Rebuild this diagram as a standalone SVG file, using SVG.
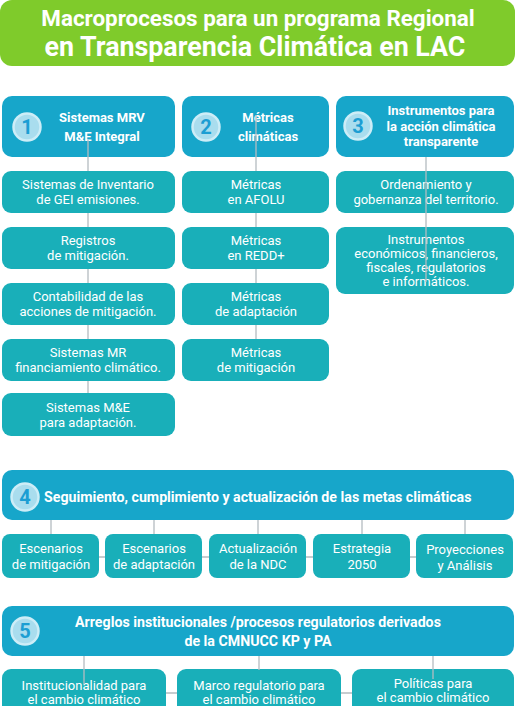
<svg xmlns="http://www.w3.org/2000/svg" width="516" height="706" viewBox="0 0 516 706">
<style>
.hd{fill:#17A6CA}
.it{fill:#19AFB9}
.t{font-family:Roboto,"Liberation Sans",sans-serif;fill:#fff;text-anchor:middle}
.b{font-weight:bold;font-size:13px}
.bb{font-weight:bold;font-size:14.2px}
.r{font-size:13px}
.ln{stroke:#B4BCC0;stroke-width:1.3;fill:none}
.bdg{fill:#A9DDEE;stroke:#CDEDF7;stroke-width:2.5}
.num{font-family:Roboto,"Liberation Sans",sans-serif;font-weight:bold;font-size:20px;fill:#1C9ED3;text-anchor:middle}
</style>
<rect width="516" height="706" fill="#fff"/>
<g id="title">
<rect x="0" y="0" width="515" height="66" rx="12" fill="#7FCB2B"/>
<text class="t" x="258" y="26" font-weight="bold" font-size="22.4">Macroprocesos para un programa Regional</text>
<text class="t" x="255" y="56" font-weight="bold" font-size="26.8">en Transparencia Climática en LAC</text>
</g>
<g id="h1"><rect class="hd" x="2" y="96" width="173" height="61" rx="10"/><circle class="bdg" cx="27" cy="127" r="13.5"/><text class="num" x="27" y="134">1</text><text class="t b" x="102" y="122">Sistemas MRV</text><text class="t b" x="102" y="141">M&amp;E Integral</text></g>
<g id="h2"><rect class="hd" x="182" y="96" width="147" height="61" rx="10"/><circle class="bdg" cx="206" cy="127" r="13.5"/><text class="num" x="206" y="134">2</text><text class="t b" x="268" y="122">Métricas</text><text class="t b" x="268" y="141">climáticas</text></g>
<g id="h3"><rect class="hd" x="336" y="96" width="178" height="61" rx="10"/><circle class="bdg" cx="358" cy="126" r="13.5"/><text class="num" x="358" y="133">3</text><text class="t b" x="441" y="115">Instrumentos para</text><text class="t b" x="441" y="131">la acción climática</text><text class="t b" x="441" y="146">transparente</text></g>
<g id="c1a"><rect class="it" x="2" y="171" width="173" height="42" rx="9"/><text class="t r" x="88" y="189">Sistemas de Inventario</text><text class="t r" x="88" y="204">de GEI emisiones.</text></g>
<g id="c1b"><rect class="it" x="2" y="227" width="173" height="42" rx="9"/><text class="t r" x="88" y="245">Registros</text><text class="t r" x="88" y="260">de mitigación.</text></g>
<g id="c1c"><rect class="it" x="2" y="283" width="173" height="42" rx="9"/><text class="t r" x="88" y="301">Contabilidad de las</text><text class="t r" x="88" y="316">acciones de mitigación.</text></g>
<g id="c1d"><rect class="it" x="2" y="339" width="173" height="42" rx="9"/><text class="t r" x="88" y="357">Sistemas MR</text><text class="t r" x="88" y="372">financiamiento climático.</text></g>
<g id="c1e"><rect class="it" x="2" y="393" width="173" height="43" rx="9"/><text class="t r" x="88" y="412">Sistemas M&amp;E</text><text class="t r" x="88" y="427">para adaptación.</text></g>
<g id="c2a"><rect class="it" x="182" y="171" width="147" height="42" rx="9"/><text class="t r" x="256" y="189">Métricas</text><text class="t r" x="256" y="204">en AFOLU</text></g>
<g id="c2b"><rect class="it" x="182" y="227" width="147" height="42" rx="9"/><text class="t r" x="256" y="245">Métricas</text><text class="t r" x="256" y="260">en REDD+</text></g>
<g id="c2c"><rect class="it" x="182" y="283" width="147" height="42" rx="9"/><text class="t r" x="256" y="301">Métricas</text><text class="t r" x="256" y="316">de adaptación</text></g>
<g id="c2d"><rect class="it" x="182" y="339" width="147" height="42" rx="9"/><text class="t r" x="256" y="357">Métricas</text><text class="t r" x="256" y="372">de mitigación</text></g>
<g id="c3a"><rect class="it" x="336" y="171" width="178" height="42" rx="9"/><text class="t r" x="426" y="189">Ordenamiento y</text><text class="t r" x="426" y="204">gobernanza del territorio.</text></g>
<g id="c3b"><rect class="it" x="336" y="227" width="178" height="67" rx="9"/><text class="t r" x="426" y="244">Instrumentos</text><text class="t r" x="426" y="258">económicos, financieros,</text><text class="t r" x="426" y="272">fiscales, regulatorios</text><text class="t r" x="426" y="286">e informáticos.</text></g>
<g id="h4"><rect class="hd" x="2" y="470" width="512" height="50" rx="10"/><circle class="bdg" cx="25" cy="497" r="13.5"/><text class="num" x="25" y="504">4</text><text class="t bb" x="44" y="502" style="text-anchor:start">Seguimiento, cumplimiento y actualización de las metas climáticas</text></g>
<g id="s4a"><rect class="it" x="2" y="534" width="97" height="44" rx="8"/><text class="t r" x="51" y="553">Escenarios</text><text class="t r" x="51" y="569">de mitigación</text></g>
<g id="s4b"><rect class="it" x="105" y="534" width="97" height="44" rx="8"/><text class="t r" x="154" y="553">Escenarios</text><text class="t r" x="154" y="569">de adaptación</text></g>
<g id="s4c"><rect class="it" x="209" y="534" width="97" height="44" rx="8"/><text class="t r" x="258" y="553">Actualización</text><text class="t r" x="258" y="569">de la NDC</text></g>
<g id="s4d"><rect class="it" x="313" y="534" width="97" height="44" rx="8"/><text class="t r" x="362" y="553">Estrategia</text><text class="t r" x="362" y="569">2050</text></g>
<g id="s4e"><rect class="it" x="416" y="534" width="97" height="44" rx="8"/><text class="t r" x="465" y="554">Proyecciones</text><text class="t r" x="465" y="570">y Análisis</text></g>
<g id="h5"><rect class="hd" x="2" y="606" width="512" height="50" rx="10"/><circle class="bdg" cx="25" cy="631" r="13.5"/><text class="num" x="25" y="638">5</text><text class="t bb" x="258" y="627">Arreglos institucionales /procesos regulatorios derivados</text><text class="t bb" x="258" y="646">de la CMNUCC KP y PA</text></g>
<g id="s5a"><rect class="it" x="2" y="669" width="164" height="50" rx="9"/><text class="t r" x="84" y="690">Institucionalidad para</text><text class="t r" x="84" y="704">el cambio climático</text></g>
<g id="s5b"><rect class="it" x="177" y="669" width="164" height="50" rx="9"/><text class="t r" x="259" y="690">Marco regulatorio para</text><text class="t r" x="259" y="704">el cambio climático</text></g>
<g id="s5c"><rect class="it" x="352" y="669" width="162" height="50" rx="9"/><text class="t r" x="433" y="688">Políticas para</text><text class="t r" x="433" y="702">el cambio climático</text></g>
<g id="connectors" class="ln">
<path d="M88 140V171M88 213V227M88 269V283M88 325V339M88 381V393"/>
<path d="M256 115V171M256 213V227M256 269V283M256 325V339"/>
<path d="M426 157V282"/>
<path d="M51 520V534M154 520V534M258 520V534M362 520V534M465 520V534M99 557H105M202 557H209M306 557H313M410 557H416"/>
<path d="M84 656V684M259 656V670M433 656V679M166 693H177M341 693H352"/>
</g>
</svg>
